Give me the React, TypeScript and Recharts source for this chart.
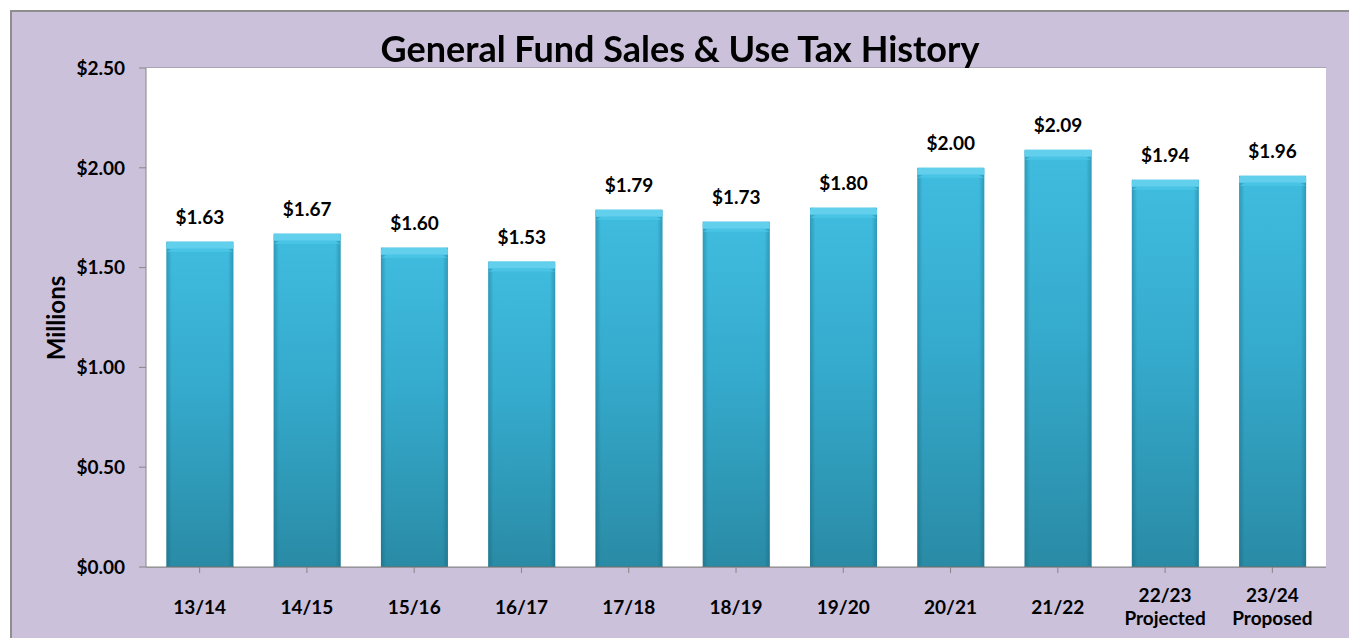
import { BarChart, Bar, XAxis, YAxis, CartesianGrid, LabelList } from "recharts";

const years = ["13/14", "14/15", "15/16", "16/17", "17/18", "18/19", "19/20", "20/21", "21/22", "22/23", "23/24"];
const notes = ["", "", "", "", "", "", "", "", "", "Projected", "Proposed"];
const sales = [1.63, 1.67, 1.6, 1.53, 1.79, 1.73, 1.8, 2.0, 2.09, 1.94, 1.96];
const yTicks = [0, 0.5, 1, 1.5, 2, 2.5];

const data = years.map((year, i) => ({ year, note: notes[i], sales: sales[i] }));

const FONT = "Lato, 'Open Sans', sans-serif";
const money = (v: number) => "$" + v.toFixed(2);

function BevelBar(props: any) {
  const { x, y, width, height } = props;
  if (!height || height <= 0) return null;
  const cap = 7;
  return (
    <g>
      <rect x={x} y={y} width={width} height={height} fill="url(#barFill)" />
      <rect x={x} y={y} width={width} height={height} fill="url(#barEdge)" />
      <path
        d={`M${x},${y + cap} L${x},${y + 2} Q${x},${y} ${x + 2},${y} L${x + width - 2},${y} Q${x + width},${y} ${x + width},${y + 2} L${x + width},${y + cap} Z`}
        fill="#62cfec"
      />
      <polygon
        points={`${x + cap},${y + cap} ${x + width - cap},${y + cap} ${x + width},${y + cap + 3} ${x},${y + cap + 3}`}
        fill="#4ac4e5"
      />
      <line x1={x} x2={x + width} y1={y + height - 0.5} y2={y + height - 0.5} stroke="#1f6f85" />
    </g>
  );
}

function YearTick(props: any) {
  const { x, y, payload, index } = props;
  const note = notes[index ?? 0] || "";
  const style = { fontFamily: FONT, fontWeight: 700, fontSize: 19, fill: "#000" } as const;
  return (
    <g transform={`translate(${x},${y})`}>
      {note ? (
        <>
          <text x={0} y={27} textAnchor="middle" {...style}>
            {payload.value}
          </text>
          <text x={0} y={50} textAnchor="middle" {...style}>
            {note}
          </text>
        </>
      ) : (
        <text x={0} y={39} textAnchor="middle" {...style}>
          {payload.value}
        </text>
      )}
    </g>
  );
}

export default function App() {
  return (
    <div style={{ position: "fixed", left: 0, top: 0, width: 1349, height: 638, overflow: "hidden" }}>
      <style>{"html,body{margin:0;overflow:hidden}"}</style>
      <div
        style={{
          position: "absolute",
          left: 10,
          top: 10,
          width: 1360,
          height: 640,
          boxSizing: "border-box",
          background: "#cbc1db",
          borderTop: "2px solid #8e8e8e",
          borderLeft: "2px solid #8e8e8e",
        }}
      />
      <div style={{ position: "absolute", left: 0, top: 0 }}>
        <BarChart
          width={1349}
          height={638}
          data={data}
          margin={{ top: 68, right: 23, left: 56, bottom: 11 }}
          barCategoryGap="19%"
        >
          <defs>
            <linearGradient id="barFill" x1="0" y1="0" x2="0" y2="1">
              <stop offset="0%" stopColor="#42c2e6" />
              <stop offset="45%" stopColor="#37afd2" />
              <stop offset="100%" stopColor="#2b8ea9" />
            </linearGradient>
            <linearGradient id="barEdge" x1="0" y1="0" x2="1" y2="0">
              <stop offset="0%" stopColor="#0d4d60" stopOpacity={0.35} />
              <stop offset="8%" stopColor="#0d4d60" stopOpacity={0.05} />
              <stop offset="92%" stopColor="#0d4d60" stopOpacity={0.05} />
              <stop offset="100%" stopColor="#0d4d60" stopOpacity={0.35} />
            </linearGradient>
          </defs>
          <rect x={146} y={68} width={1180} height={499} fill="#ffffff" />
          <CartesianGrid vertical={false} stroke="#868686" strokeWidth={1} />
          <XAxis
            dataKey="year"
            height={60}
            stroke="#868686"
            tickSize={6}
            tickLine={{ stroke: "#868686" }}
            tick={<YearTick />}
            interval={0}
          />
          <YAxis
            width={90}
            domain={[0, 2.5]}
            ticks={yTicks}
            stroke="#868686"
            tickSize={7}
            tickMargin={14}
            tickFormatter={money}
            tick={{ fontFamily: FONT, fontWeight: 700, fontSize: 19, fill: "#000" }}
          />
          <Bar dataKey="sales" shape={<BevelBar />} isAnimationActive={false}>
            <LabelList
              dataKey="sales"
              position="top"
              offset={18}
              formatter={(v: any) => money(Number(v))}
              style={{ fontFamily: FONT, fontWeight: 700, fontSize: 19, fill: "#000" }}
            />
          </Bar>
        </BarChart>
      </div>
      <div
        style={{
          position: "absolute",
          left: 0,
          top: 30,
          width: 1360,
          textAlign: "center",
          fontFamily: FONT,
          fontWeight: 700,
          fontSize: 36,
          lineHeight: "36px",
          color: "#000",
        }}
      >
        General Fund Sales &amp; Use Tax History
      </div>
      <div
        style={{
          position: "absolute",
          left: 56 - 60,
          top: 318 - 15,
          width: 120,
          textAlign: "center",
          transform: "rotate(-90deg)",
          fontFamily: FONT,
          fontWeight: 700,
          fontSize: 24,
          lineHeight: "30px",
        }}
      >
        Millions
      </div>
    </div>
  );
}
